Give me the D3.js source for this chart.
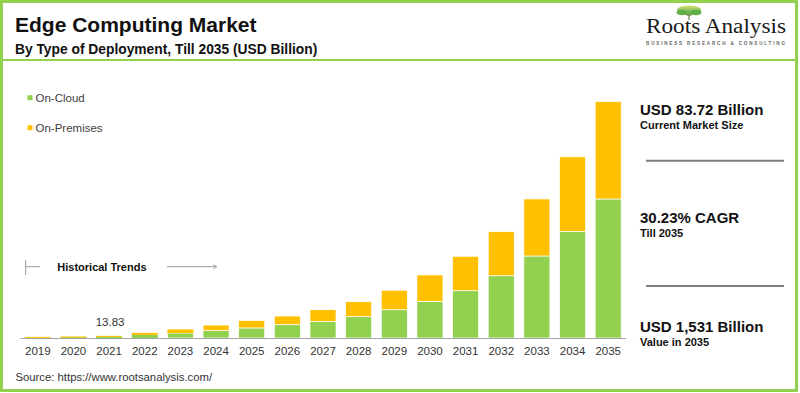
<!DOCTYPE html>
<html>
<head>
<meta charset="utf-8">
<script src="https://cdn.jsdelivr.net/npm/d3@7"></script>
<style>
  body { margin: 0; background: #fff; }
  svg { display: block; font-family: "Liberation Sans", Arial, sans-serif; }
</style>
</head>
<body>
<svg id="chart" width="800" height="393"></svg>
<script>
// values (USD Billion)
const years = ["2019", "2020", "2021", "2022", "2023", "2024", "2025", "2026", "2027",
               "2028", "2029", "2030", "2031", "2032", "2033", "2034", "2035"];
const onCloud = [4.5, 6.2, 8.1, 20, 32, 47.5, 65, 86, 107, 138, 183, 237, 306, 403, 531, 690, 900];
const onPremises = [2.5, 3.8, 5.73, 13, 24, 36.22, 47, 56, 76, 97, 126, 171, 223, 285, 369, 483, 631];
const seriesNames = ["On-Cloud", "On-Premises"];
const seriesColors = ["#92d050", "#ffc000"];
const labelYear = "2021";
const labelText = "13.83";
const highlights = [
  ["USD 83.72 Billion", "Current Market Size"],
  ["30.23% CAGR", "Till 2035"],
  ["USD 1,531 Billion", "Value in 2035"]
];

const green = "#92d050";
const svg = d3.select("#chart");

const table = years.map((y, i) => ({ year: y, cloud: onCloud[i], prem: onPremises[i] }));
const stack = d3.stack().keys(["cloud", "prem"])(table);

const x = d3.scaleBand().domain(years).range([20, 626]).paddingInner(0.27).paddingOuter(0.135);
const y = d3.scaleLinear().domain([0, 1531]).range([338, 101.5]);

// frame
svg.append("rect")
  .attr("x", 1.5).attr("y", 1.5).attr("width", 795).attr("height", 389)
  .attr("fill", "none").attr("stroke", green).attr("stroke-width", 3);

svg.append("line")
  .attr("x1", 0).attr("x2", 797).attr("y1", 60).attr("y2", 60)
  .attr("stroke", green).attr("stroke-width", 2);

// titles
svg.append("text").attr("x", 15).attr("y", 31.5)
  .style("font", "bold 21px 'Liberation Sans', Arial").attr("fill", "#111")
  .text("Edge Computing Market");
svg.append("text").attr("x", 15).attr("y", 53.5)
  .style("font", "bold 13.8px 'Liberation Sans', Arial").attr("fill", "#111")
  .text("By Type of Deployment, Till 2035 (USD Billion)");

// logo
const logo = svg.append("g");
const grad = svg.append("defs").append("linearGradient").attr("id", "leaf")
  .attr("x1", 0).attr("y1", 0).attr("x2", 0).attr("y2", 1);
grad.append("stop").attr("offset", "0%").attr("stop-color", "#d4e67a");
grad.append("stop").attr("offset", "100%").attr("stop-color", "#4fa340");
logo.append("path")
  .attr("d", "M689 20 L689 14 M689 16 L684 13 M689 16 L694 13")
  .attr("stroke", "#7a8a4a").attr("stroke-width", 1.2).attr("fill", "none");
logo.append("ellipse").attr("cx", 689).attr("cy", 10).attr("rx", 12).attr("ry", 4.5)
  .attr("fill", "url(#leaf)");
logo.append("ellipse").attr("cx", 682).attr("cy", 12.5).attr("rx", 5.5).attr("ry", 2.8)
  .attr("fill", "#5fae48");
logo.append("ellipse").attr("cx", 696).attr("cy", 12.5).attr("rx", 5.5).attr("ry", 2.8)
  .attr("fill", "#5fae48");
logo.append("text").attr("x", 646).attr("y", 33.3)
  .attr("textLength", 140).attr("lengthAdjust", "spacingAndGlyphs")
  .style("font", "20px 'Liberation Serif', 'Times New Roman', serif").attr("fill", "#1a1a1a")
  .text("Roots Analysis");
logo.append("text").attr("x", 646).attr("y", 44.5)
  .attr("textLength", 139).attr("lengthAdjust", "spacing")
  .style("font", "bold 4.6px 'Liberation Sans', Arial").attr("fill", "#666")
  .text("BUSINESS RESEARCH & CONSULTING");

// legend
seriesNames.forEach((name, i) => {
  const ly = 97.7 + i * 30;
  svg.append("rect").attr("x", 27.5).attr("y", ly - 2.5).attr("width", 5).attr("height", 5)
    .attr("fill", seriesColors[i]);
  svg.append("text").attr("x", 35.5).attr("y", ly + 4)
    .style("font", "11.5px 'Liberation Sans', Arial").attr("fill", "#404040")
    .text(name);
});

// historical trends marker
svg.append("line").attr("x1", 25.7).attr("x2", 25.7).attr("y1", 260).attr("y2", 275)
  .attr("stroke", "#999").attr("stroke-width", 1);
svg.append("line").attr("x1", 25.7).attr("x2", 40).attr("y1", 266.7).attr("y2", 266.7)
  .attr("stroke", "#999").attr("stroke-width", 1);
svg.append("text").attr("x", 57.3).attr("y", 270.6)
  .style("font", "bold 11px 'Liberation Sans', Arial").attr("fill", "#111")
  .text("Historical Trends");
svg.append("line").attr("x1", 167).attr("x2", 216).attr("y1", 266.7).attr("y2", 266.7)
  .attr("stroke", "#999").attr("stroke-width", 1);
svg.append("path").attr("d", "M213 264.7 L217 266.7 L213 268.7")
  .attr("fill", "none").attr("stroke", "#999").attr("stroke-width", 0.8);

// bars (thin white separator only where the segment is tall enough to show it)
svg.append("g").selectAll("g")
  .data(stack).join("g")
  .attr("fill", (d, i) => seriesColors[i])
  .selectAll("rect")
  .data(d => d).join("rect")
  .attr("x", d => x(d.data.year))
  .attr("width", x.bandwidth())
  .attr("y", d => y(d[1]))
  .attr("height", d => Math.max(1, y(d[0]) - y(d[1])))
  .attr("stroke", d => (y(d[0]) - y(d[1]) > 4 ? "#fff" : "none"))
  .attr("stroke-width", 0.7);

// x axis
const xAxis = svg.append("g")
  .attr("transform", "translate(0,338)")
  .call(d3.axisBottom(x).tickSize(0).tickPadding(9));
xAxis.select(".domain").attr("stroke", "#a6a6a6").attr("d", "M20.5,0.5H626");
xAxis.selectAll("text")
  .style("font", "11.5px 'Liberation Sans', Arial").attr("fill", "#333");

// data label
const lastIdx = years.indexOf(labelYear);
svg.append("text")
  .attr("x", x(labelYear) + x.bandwidth() / 2 + 1)
  .attr("y", y(onCloud[lastIdx] + onPremises[lastIdx]) - 10)
  .attr("text-anchor", "middle")
  .style("font", "11.5px 'Liberation Sans', Arial").attr("fill", "#333")
  .text(labelText);

// source
svg.append("text").attr("x", 15.5).attr("y", 380.6)
  .style("font", "11.3px 'Liberation Sans', Arial").attr("fill", "#333")
  .text("Source: https://www.rootsanalysis.com/");

// right panel
const panelY = [115, 223.3, 332.3];
highlights.forEach((h, i) => {
  svg.append("text").attr("x", 640).attr("y", panelY[i])
    .style("font", "bold 15px 'Liberation Sans', Arial").attr("fill", "#111")
    .text(h[0]);
  svg.append("text").attr("x", 640).attr("y", panelY[i] + 13.5)
    .style("font", "bold 11px 'Liberation Sans', Arial").attr("fill", "#111")
    .text(h[1]);
});
[160.7, 286].forEach(ly => {
  svg.append("line").attr("x1", 646).attr("x2", 784).attr("y1", ly).attr("y2", ly)
    .attr("stroke", "#7f7f7f").attr("stroke-width", 2);
});
</script>
</body>
</html>
